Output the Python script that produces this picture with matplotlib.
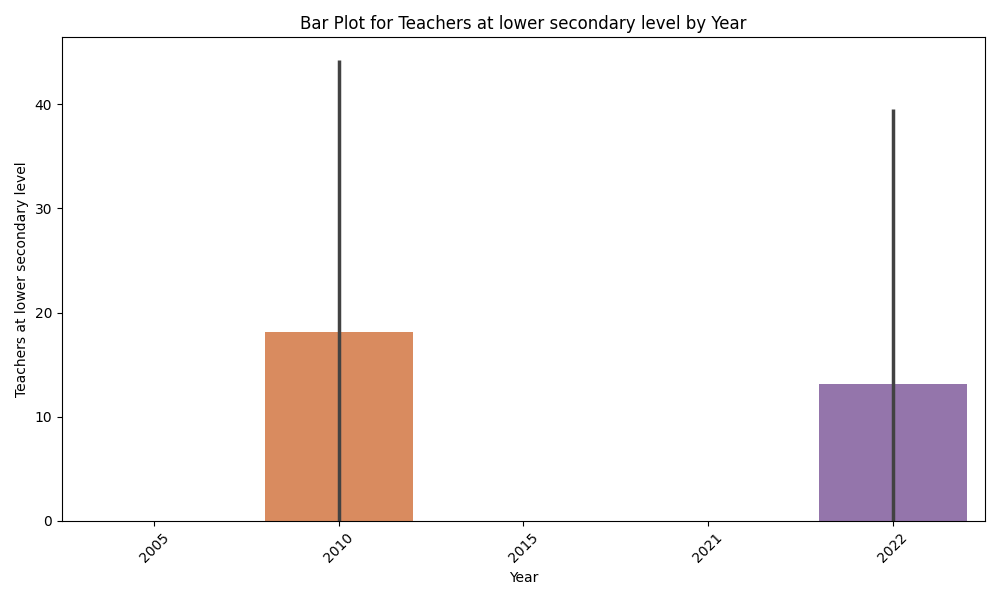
import matplotlib
matplotlib.use("Agg")
import matplotlib.pyplot as plt
import seaborn as sns

years = ["2005", "2010", "2015", "2021", "2022"]
values = [0.0, 18.1, 0.0, 0.0, 13.1]
ci_low = [0.0, 0.0, 0.0, 0.0, 0.0]
ci_high = [0.0, 44.2, 0.0, 0.0, 39.5]

pal = sns.color_palette("muted", len(years))
colors = [sns.desaturate(c, 0.75) for c in pal]

fig, ax = plt.subplots(figsize=(10, 6), dpi=100)
x = list(range(len(years)))
ax.bar(x, values, width=0.8, color=colors)
for xi, lo, hi in zip(x, ci_low, ci_high):
    if hi > lo:
        ax.plot([xi, xi], [lo, hi], color=".26", linewidth=2.5, solid_capstyle="butt")
ax.set_xticks(x)
ax.set_xticklabels(years, rotation=45)
ax.set_xlim(-0.5, len(years) - 0.5)
ax.set_xlabel("Year")
ax.set_ylabel("Teachers at lower secondary level")
ax.set_title("Bar Plot for Teachers at lower secondary level by Year")
fig.tight_layout()
fig.savefig("out.png")
